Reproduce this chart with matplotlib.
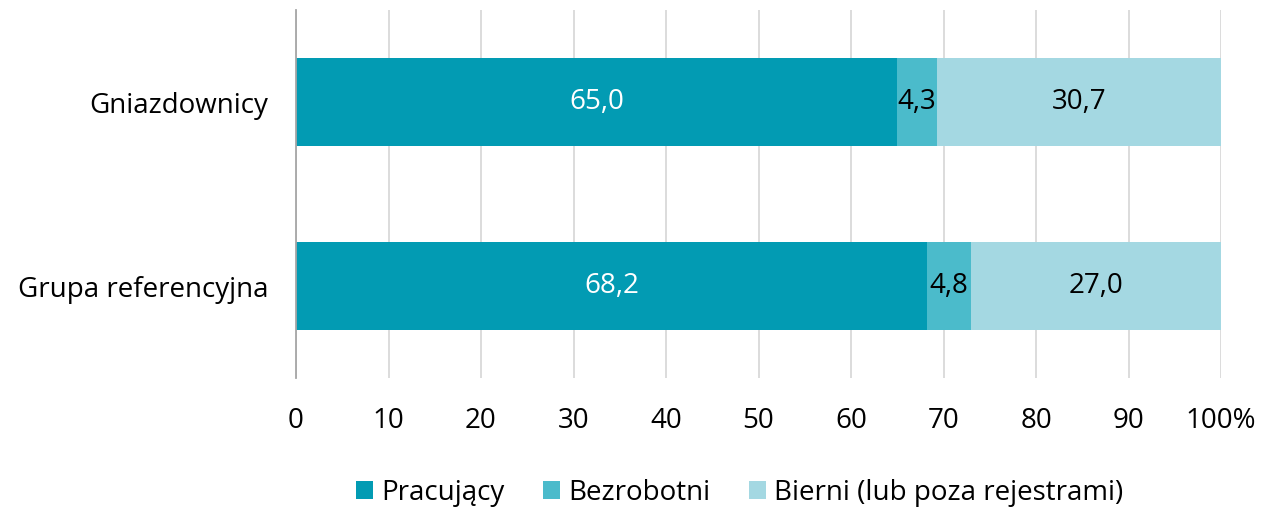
import matplotlib.pyplot as plt

plt.rcParams['font.family'] = ['Open Sans', 'DejaVu Sans']

# data
groups = ['Gniazdownicy', 'Grupa referencyjna']
series = ['Pracujący', 'Bezrobotni', 'Bierni (lub poza rejestrami)']
pracujacy = [65.0, 68.2]
bezrobotni = [4.3, 4.8]
bierni = [30.7, 27.0]
colors = ['#029bb3', '#4bbbcb', '#a4d8e2']
text_colors = ['white', 'black', 'black']

fig = plt.figure(figsize=(12.78, 5.11), dpi=100)
ax = fig.add_axes([296 / 1278, 1 - 378 / 511, (1221 - 296) / 1278, 368 / 511])

ypos = list(range(len(groups)))
left = [0.0] * len(groups)
for name, vals, c, tc in zip(series, [pracujacy, bezrobotni, bierni], colors, text_colors):
    bars = ax.barh(ypos, vals, left=left, height=0.478, color=c, label=name, zorder=2)
    for b, v in zip(bars, vals):
        ax.text(b.get_x() + b.get_width() / 2, b.get_y() + b.get_height() / 2,
                f'{v:.1f}'.replace('.', ','), ha='center', va='center',
                color=tc, fontsize=20, zorder=3)
    left = [l + v for l, v in zip(left, vals)]

ax.set_xlim(0, 100)
ax.set_ylim(1.5, -0.5)
ax.set_xticks(range(0, 101, 10))
ax.set_xticklabels([str(x) for x in range(0, 100, 10)] + ['100%'])
ax.set_yticks(ypos)
ax.set_yticklabels(groups)
ax.tick_params(axis='both', length=0, labelsize=20)
ax.tick_params(axis='x', pad=21)
ax.tick_params(axis='y', pad=20)
ax.xaxis.grid(True, color='#d9d9d9', linewidth=1.3, zorder=0)
ax.set_axisbelow(True)
for s in ['top', 'right', 'bottom']:
    ax.spines[s].set_visible(False)
ax.spines['left'].set_color('#a6a6a6')
ax.spines['left'].set_linewidth(1.3)

fig.legend(loc='center', bbox_to_anchor=(740 / 1278, 1 - 493 / 511), ncol=3,
           frameon=False, fontsize=20, handlelength=0.6, handleheight=0.6,
           handletextpad=0.3, columnspacing=1.4)

fig.savefig('out.png', dpi=100)
